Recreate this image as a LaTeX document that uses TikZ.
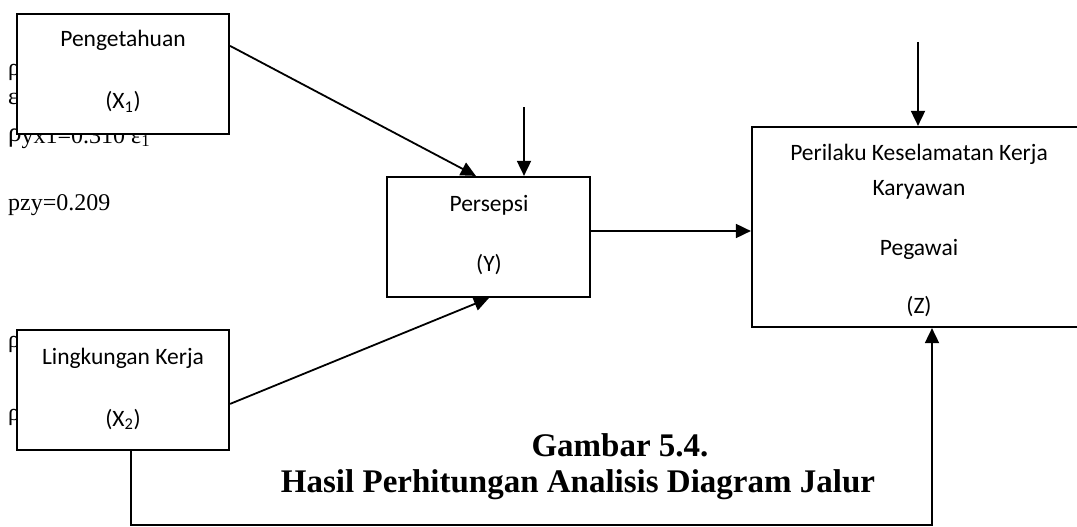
\documentclass[tikz,border=0pt]{standalone}
\usepackage{fontspec}
\setmainfont{Liberation Serif}
\newfontfamily\carlito{Carlito}
\usetikzlibrary{arrows.meta,calc}
\begin{document}
\begin{tikzpicture}[x=1pt,y=-1pt,
  box/.style={draw,line width=2.2pt,fill=white,inner sep=0pt},
  lbl/.style={anchor=base,font=\carlito\fontsize{23.5}{28}\selectfont,inner sep=0pt},
  side/.style={anchor=base west,font=\fontsize{24}{28}\selectfont,inner sep=0pt},
  captxt/.style={anchor=base,font=\bfseries\fontsize{33}{38}\selectfont,inner sep=0pt},
  arr/.style={line width=1.8pt,-{Triangle[length=15pt,width=14pt]}},
  conn/.style={line width=1.8pt}]
\useasboundingbox (0,0) rectangle (1077,527);
\clip (0,0) rectangle (1077,527);
% partially hidden side texts
\node[side] (t1) at (8,76) {ρ};
\node[side] (t2) at (8,105) {ε};
\node[side] (t3) at (8,141) {{\fontsize{27}{28}\selectfont ρ}\raisebox{-2pt}{yx1=0.310 ε\textsubscript{1}}};
\node[side] (t4) at (8,210) {pzy=0.209};
\node[side] (t5) at (8,347) {ρ};
\node[side] (t6) at (8,420) {ρ};
% boxes
\node[box,minimum width=212pt,minimum height=120pt] (x1) at (123,74) {};
\node[box,minimum width=212pt,minimum height=120pt] (x2) at (123,390) {};
\node[box,minimum width=203pt,minimum height=120pt] (y) at (488.5,237) {};
\node[box,minimum width=334pt,minimum height=200pt] (z) at (919,227) {};
% box labels
\node[lbl] (lx1a) at (123,47) {Pengetahuan};
\node[lbl] (lx1b) at (123,109) {(X\textsubscript{1})};
\node[lbl] (lx2a) at (123,364) {Lingkungan Kerja};
\node[lbl] (lx2b) at (123,426) {(X\textsubscript{2})};
\node[lbl] (lya) at (489,211) {Persepsi};
\node[lbl] (lyb) at (489,271) {(Y)};
\node[lbl] (lza) at (919,160) {Perilaku Keselamatan Kerja};
\node[lbl] (lzb) at (919,195) {Karyawan};
\node[lbl] (lzc) at (919,255) {Pegawai};
\node[lbl] (lzd) at (919,313) {(Z)};
% caption
\node[captxt] (c1) at (620,456) {Gambar 5.4.};
\node[captxt] (c2) at (578,492) {Hasil Perhitungan Analisis Diagram Jalur};
% connectors
\coordinate (ey) at (524,107);
\coordinate (ez) at (918,42);
\coordinate (s1) at ($(x1.north east)+(0,33)$);
\coordinate (e1) at ($(y.north west)+(90,0)$);
\coordinate (s2) at ($(x2.north east)+(0,75)$);
\coordinate (e2) at ($(y.south west)+(103,0)$);
\coordinate (ya) at (590,231);
\draw[arr] (s1) -- (e1);
\draw[arr] (ey) -- (ey |- y.north);
\draw[arr] (s2) -- (e2);
\draw[arr] (ya) -- (ya -| z.west);
\draw[arr] (ez) -- (ez |- z.north);
\coordinate (b1) at (131,525);
\coordinate (b2) at (932,525);
\draw[arr] (x2.south -| b1) -- (b1) -- (b2) -- (b2 |- z.south);
\end{tikzpicture}
\end{document}
